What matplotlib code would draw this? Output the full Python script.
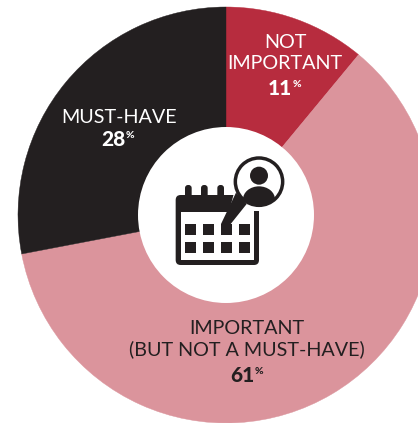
import matplotlib
matplotlib.use("Agg")
import matplotlib.pyplot as plt
from matplotlib.patches import Circle, Ellipse, FancyBboxPatch, Polygon, Rectangle

categories = ["NOT\nIMPORTANT", "IMPORTANT\n(BUT NOT A MUST-HAVE)", "MUST-HAVE"]
values = [11, 61, 28]
colors = ["#B72C3E", "#DB949C", "#231F20"]

BLACK = "#231F20"
WIDTH, HEIGHT = 418, 423
plt.rcParams["font.family"] = ["Lato", "DejaVu Sans"]

fig = plt.figure(figsize=(WIDTH / 100, HEIGHT / 100), dpi=100)
ax = fig.add_axes([0, 0, 1, 1])


def Y(py):
    return HEIGHT - py


# icon sketch units -> figure pixels
def ix(x):
    return 130 + x / 3


def iy(y):
    return Y(140 + y / 3)


def pts(*coords):
    return [(ix(x), iy(y)) for x, y in coords]


def irect(x0, y0, x1, y1, color=BLACK, z=5):
    ax.add_patch(Rectangle((ix(x0), iy(y1)), (x1 - x0) / 3, (y1 - y0) / 3, fc=color, ec="none", zorder=z))


wedges, _ = ax.pie(values, colors=colors, startangle=90, counterclock=False, center=(226, Y(215)),
                   radius=208, frame=True, wedgeprops=dict(linewidth=0))
for w in wedges:
    w.set_edgecolor(w.get_facecolor())
    w.set_linewidth(0.3)
ax.set_xlim(0, WIDTH)
ax.set_ylim(0, HEIGHT)
ax.set_aspect("equal")
ax.axis("off")

# middle hole
ax.add_patch(Circle((226, Y(215)), 88, fc="white", ec="none", zorder=3))

# calendar body
ax.add_patch(FancyBboxPatch((ix(137) + 4, iy(375) + 4), 250 / 3 - 8, 210 / 3 - 8,
                            boxstyle="round,pad=4,rounding_size=5", fc=BLACK, ec="none", zorder=5))
irect(153, 215, 372, 360, "white", 6)
ax.add_patch(Polygon(pts((311, 160), (400, 160), (400, 212), (372, 212), (372, 216), (297, 216)),
                     fc="white", ec="none", zorder=6))

# binder rings
for rx in [175, 223, 272]:
    ax.add_patch(FancyBboxPatch((ix(rx - 10) + 2, iy(175) + 2), 20 / 3 - 4, 40 / 3 - 4,
                                boxstyle="round,pad=2,rounding_size=3", fc=BLACK, ec="none", zorder=5))

# day squares
for sx in [165, 219, 273, 327]:
    for sy in [252, 306]:
        irect(sx, sy, sx + 33, sy + 33, BLACK, 7)

# speech bubble with person
bubble = Circle((ix(387), iy(125)), 71 / 3, fc="white", ec=BLACK, lw=2.5, zorder=8)
ax.add_patch(Polygon(pts((318, 158), (350, 192), (302, 252), (273, 252)), fc=BLACK, ec="none", zorder=7))
ax.add_patch(bubble)
ax.add_patch(Circle((ix(387), iy(107)), 27 / 3, fc=BLACK, ec="none", zorder=9))
shoulders = Ellipse((ix(387), iy(178)), 96 / 3, 78 / 3, fc=BLACK, ec="none", zorder=9)
ax.add_patch(shoulders)
shoulders.set_clip_path(bubble)

# labels: name, bold value, small raised percent sign
text_kw = dict(ha="center", va="center", fontsize=14.2, linespacing=1.22, zorder=10)
ax.text(285, Y(53), categories[0], color="white", **text_kw)
ax.text(247, Y(339), categories[1], color=BLACK, **text_kw)
ax.text(119, Y(117), categories[2], color="white", **text_kw)

value_x = [280, 242, 113]
value_y = [88, 375, 139]
value_colors = ["white", BLACK, "white"]
for v, vx, vy, c in zip(values, value_x, value_y, value_colors):
    t = ax.text(vx, Y(vy), str(v), color=c, fontsize=15, fontweight=900,
                ha="center", va="center", zorder=10)
    box = t.get_window_extent(fig.canvas.get_renderer())
    ax.text(box.x1 + 0.5, Y(vy - 4), "%", color=c, fontsize=7.5, fontweight=900,
            ha="left", va="center", zorder=10)

fig.savefig("out.png", dpi=100)
